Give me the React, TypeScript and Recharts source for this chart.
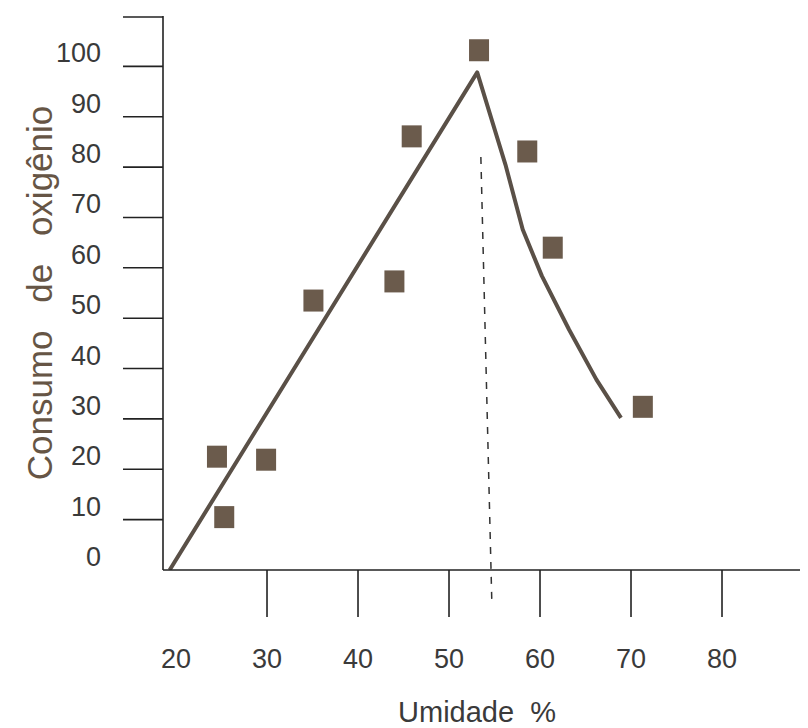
import {
  ComposedChart,
  Label,
  Line,
  ReferenceLine,
  Scatter,
  XAxis,
  YAxis,
} from "recharts";

// pontos medidos (quadrados)
const umidadeMedida = [24.5, 25.3, 29.9, 35.1, 44.0, 45.9, 53.3, 58.6, 61.4, 71.3];
const consumoMedido = [22.5, 10.5, 21.9, 53.5, 57.3, 86.1, 103.2, 83.1, 64.0, 32.4];

// curva ajustada
const umidadeCurva = [19.3, 53.1, 56.2, 58.1, 60.2, 63.2, 66.2, 68.9];
const consumoCurva = [0, 98.8, 80.5, 67.6, 58.4, 47.7, 37.8, 30.2];

// linha tracejada do ótimo
const otimoUmidade = [53.5, 54.7];
const otimoConsumo = [82, -6];

const xTicks = [20, 30, 40, 50, 60, 70, 80];
const yTicks = [0, 10, 20, 30, 40, 50, 60, 70, 80, 90, 100, 110];

const ink = "#222";
const tickFont = "'Liberation Sans', Arial, sans-serif";

function buildPoints(xs: number[], ys: number[]) {
  return xs.map((x, i) => ({ x, y: ys[i] }));
}

function YTick(props: any) {
  const { x, y, payload } = props;
  const v = payload.value;
  return (
    <g>
      {v > 0 && <line x1={x - 40} y1={y} x2={x} y2={y} stroke={ink} strokeWidth={1.6} />}
      {v < 110 && (
        <text
          x={x - 62}
          y={y - 13}
          textAnchor="end"
          dominantBaseline="central"
          fontFamily={tickFont}
          fontSize={27}
          fill="#3a3a3a"
        >
          {v}
        </text>
      )}
    </g>
  );
}

function XTick(props: any) {
  const { x, y, payload } = props;
  const v = payload.value;
  return (
    <g>
      {v > 20 && <line x1={x} y1={y} x2={x} y2={y + 47} stroke={ink} strokeWidth={1.6} />}
      <text
        x={x}
        y={y + 89}
        textAnchor="middle"
        dominantBaseline="central"
        fontFamily={tickFont}
        fontSize={27}
        fill="#3a3a3a"
      >
        {v}
      </text>
    </g>
  );
}

function Square(props: any) {
  const { cx, cy } = props;
  return <rect x={cx - 10} y={cy - 11} width={20} height={22} fill="#6b5b4c" />;
}

function YTitle(props: any) {
  const vb = props.viewBox;
  const cx = vb.x + 31;
  const cy = vb.y + vb.height / 2;
  return (
    <text
      x={cx}
      y={cy}
      transform={`rotate(-90 ${cx} ${cy})`}
      textAnchor="middle"
      dominantBaseline="central"
      fontFamily={tickFont}
      fontSize={35}
      fill="#665545"
      style={{ wordSpacing: 18 }}
    >
      Consumo de oxigênio
    </text>
  );
}

function XTitle(props: any) {
  const vb = props.viewBox;
  return (
    <text
      x={vb.x + 314}
      y={vb.y + 142}
      textAnchor="middle"
      dominantBaseline="central"
      fontFamily={tickFont}
      fontSize={29}
      fill="#3a3a3a"
      style={{ wordSpacing: 8 }}
    >
      Umidade %
    </text>
  );
}

export default function App() {
  const medidos = buildPoints(umidadeMedida, consumoMedido);
  const curva = buildPoints(umidadeCurva, consumoCurva);
  const otimo = buildPoints(otimoUmidade, otimoConsumo);

  return (
    <ComposedChart
      width={800}
      height={720}
      margin={{ top: 8, right: 0, left: 0, bottom: 0 }}
    >
      <XAxis
        type="number"
        dataKey="x"
        domain={[18.57, 89.45]}
        ticks={xTicks}
        height={158}
        tickSize={0}
        tickMargin={0}
        tickLine={false}
        axisLine={{ stroke: ink, strokeWidth: 1.6 }}
        tick={<XTick />}
        allowDataOverflow
      >
        <Label content={<XTitle />} />
      </XAxis>
      <YAxis
        type="number"
        dataKey="y"
        domain={[0, 110]}
        ticks={yTicks}
        width={155}
        tickSize={0}
        tickMargin={0}
        tickLine={false}
        axisLine={{ stroke: ink, strokeWidth: 1.6 }}
        tick={<YTick />}
        allowDataOverflow
      >
        <Label content={<YTitle />} />
      </YAxis>
      <ReferenceLine
        segment={otimo}
        stroke="#333"
        strokeWidth={1.5}
        strokeDasharray="7 8"
        ifOverflow="visible"
      />
      <Line
        data={curva}
        dataKey="y"
        type="linear"
        stroke="#5a5047"
        strokeWidth={4}
        strokeLinejoin="round"
        dot={false}
        activeDot={false}
        isAnimationActive={false}
      />
      <Scatter
        data={medidos}
        dataKey="y"
        shape={<Square />}
        isAnimationActive={false}
      />
    </ComposedChart>
  );
}
